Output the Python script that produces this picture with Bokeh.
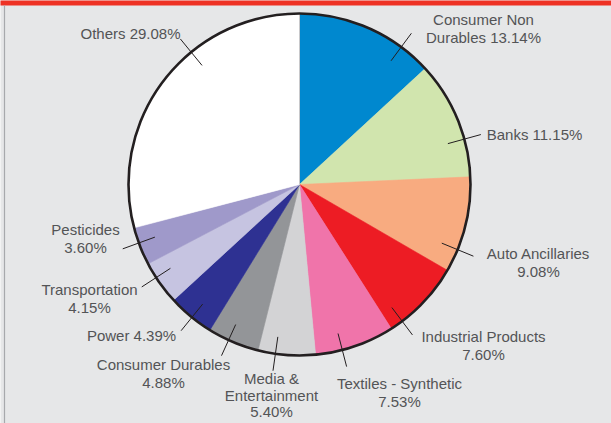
import math
from bokeh.plotting import figure
from bokeh.models import Range1d, ColumnDataSource
from bokeh.core.properties import value
from bokeh.embed import file_html
from bokeh.resources import INLINE

# ---------------- data ----------------
sectors = ["Consumer Non Durables", "Banks", "Auto Ancillaries", "Industrial Products",
           "Textiles - Synthetic", "Media & Entertainment", "Consumer Durables", "Power",
           "Transportation", "Pesticides", "Others"]
shares = [13.14, 11.15, 9.08, 7.60, 7.53, 5.40, 4.88, 4.39, 4.15, 3.60, 29.08]
colors = ["#0088cf", "#d1e5ae", "#f8ab80", "#ed1c24", "#f074aa", "#d3d3d5",
          "#939598", "#2e3192", "#c6c4e1", "#9f99ca", "#ffffff"]
label_fmt = ["Consumer Non|Durables {}%", "Banks {}%", "Auto Ancillaries|{}%",
             "Industrial Products|{}%", "Textiles - Synthetic|{}%",
             "Media &|Entertainment|{}%", "Consumer Durables|{}%", "Power {}%",
             "Transportation|{}%", "Pesticides|{}%", "Others {}%"]

# ---------------- layout (pixel positions of the reference) ----------------
W, H = 611, 423
def X(px): return px
def Y(py): return H - py

CX, CY, R = X(299), Y(184), 171
label_x = [483, 534, 538, 483, 399, 271, 163, 131, 89, 85, 130]
label_y = [19, 134, 253, 336, 383, 378, 364, 335, 289, 229, 33]
line_gaps = [17.5, 17.5, 17.5, 17.5, 17.5, 16.5, 17.5, 17.5, 17.5, 17.5, 17.5]
leader_deg = [36.5, 74.6, 112.4, 143.1, 165.5, 188.1, 204.5, 219.0, 237.0, 250.0, 320.7]
leader_r_in, leader_r_out = 0.90 * R, 1.10 * R

BG = "#e6e7e8"
TXT = "#535456"

p = figure(width=W, height=H, output_backend="svg", toolbar_location=None,
           x_range=Range1d(0, W), y_range=Range1d(0, H), min_border=0,
           background_fill_color=BG, border_fill_color=BG, outline_line_color=None)
p.axis.visible = False
p.grid.visible = False

# frame decorations
p.quad(left=[-5], right=[W + 5], bottom=[Y(5)], top=[H + 5], fill_color="#ee3224", line_color=None)
p.segment(x0=[X(4)], y0=[-5], x1=[X(4)], y1=[Y(5)], line_color="#a7a9ac", line_width=1.2)

# wedges: start at 12 o'clock, clockwise
total = sum(shares)
starts, ends = [], []
cum = 0.0
for s in shares:
    a0 = math.pi / 2 - 2 * math.pi * (cum + s) / total
    a1 = math.pi / 2 - 2 * math.pi * cum / total
    starts.append(a0)
    ends.append(a1)
    cum += s
src = ColumnDataSource(dict(start=starts, end=ends, color=colors, name=sectors, share=shares))
p.wedge(x=CX, y=CY, radius=R, start_angle="start", end_angle="end",
        fill_color="color", line_color="color", line_width=0.6, source=src)
# thin seam at 12 o'clock
p.segment(x0=[CX], y0=[CY], x1=[CX], y1=[CY + R], line_color="#c8c8ca", line_width=1)
# outline
p.circle(x=[CX], y=[CY], radius=R, fill_color=None, line_color="#231f20", line_width=2.6)

# leader lines
lx0, ly0, lx1, ly1 = [], [], [], []
for d in leader_deg:
    t = math.radians(d)
    lx0.append(CX + leader_r_in * math.sin(t)); ly0.append(CY + leader_r_in * math.cos(t))
    lx1.append(CX + leader_r_out * math.sin(t)); ly1.append(CY + leader_r_out * math.cos(t))
p.segment(x0=lx0, y0=ly0, x1=lx1, y1=ly1, line_color="#231f20", line_width=1)

# labels
tx, ty, tt = [], [], []
for fmt, s, x0, y0, g in zip(label_fmt, shares, label_x, label_y, line_gaps):
    lines = fmt.format(f"{s:.2f}").split("|")
    for i, ln in enumerate(lines):
        tx.append(X(x0)); ty.append(Y(y0 + i * g)); tt.append(ln)
p.text(x=tx, y=ty, text=tt, text_align="center", text_baseline="middle",
       text_font=value("Liberation Sans"), text_font_size="15px", text_color=TXT)

open("out.html", "w").write(file_html(p, INLINE))
